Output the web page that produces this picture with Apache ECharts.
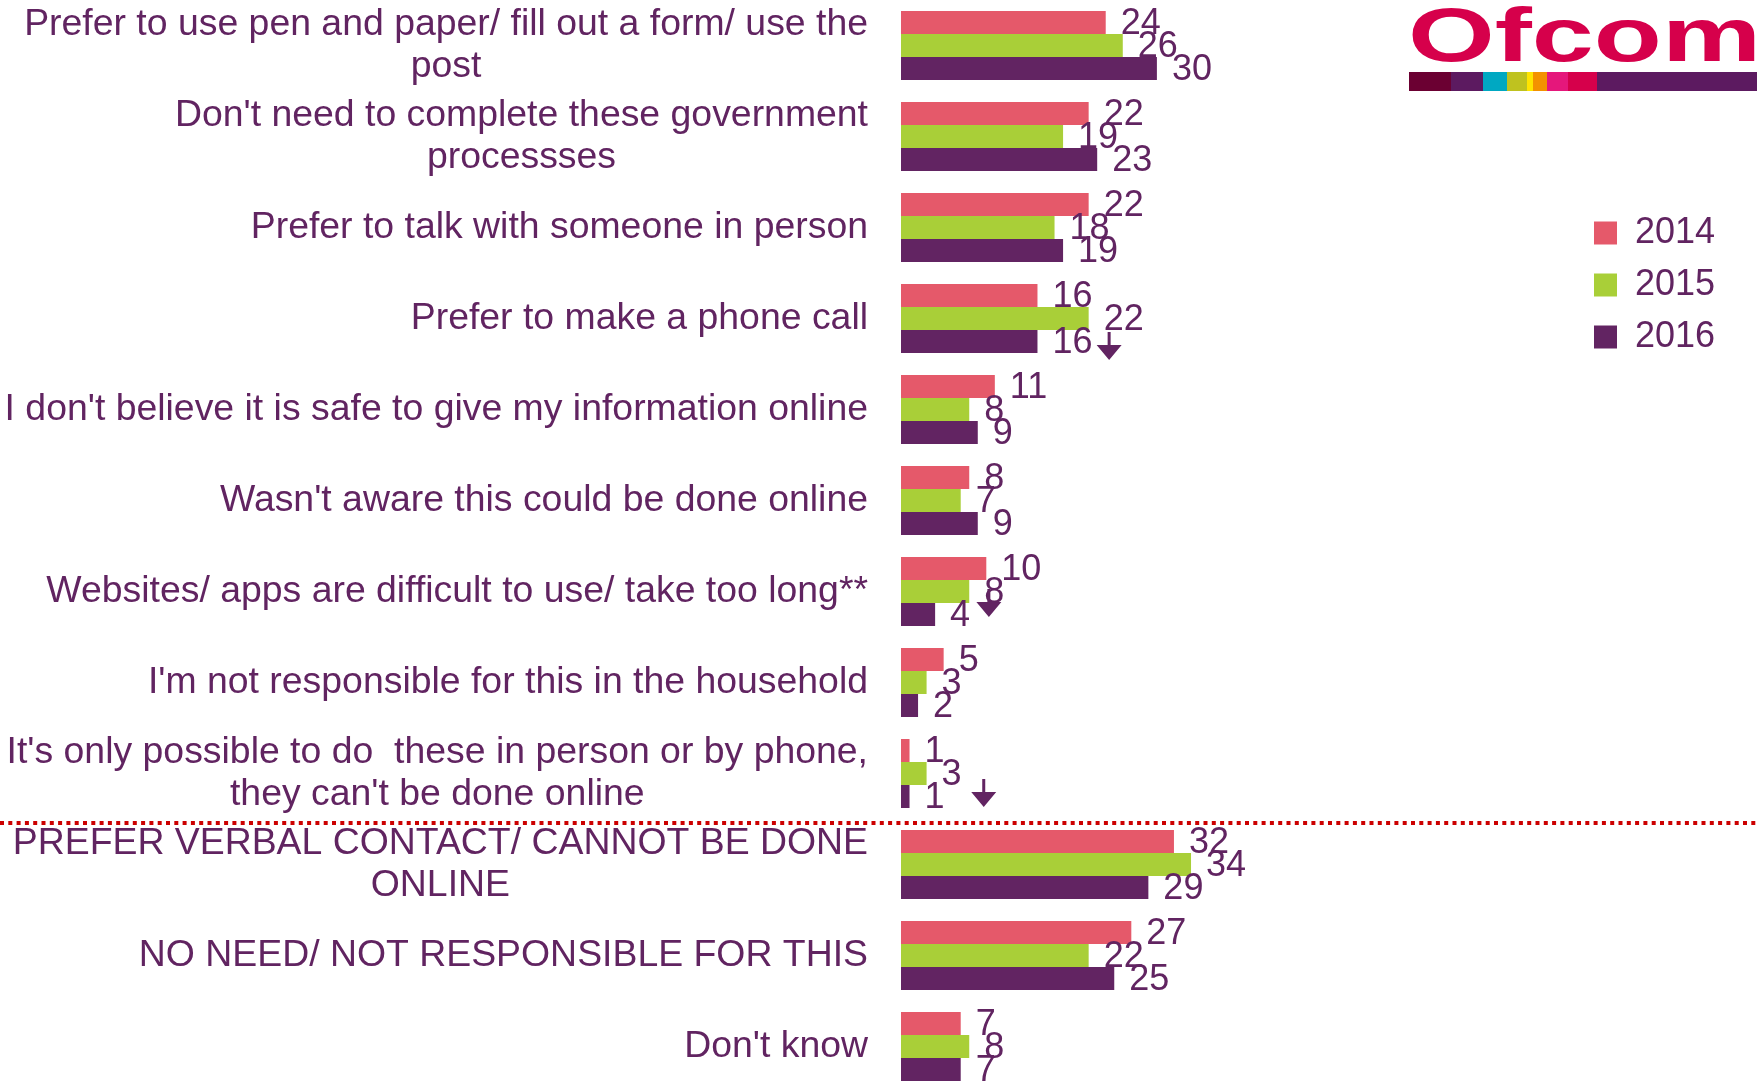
<!DOCTYPE html>
<html>
<head>
<meta charset="utf-8">
<title>Reasons for not completing government processes online</title>
<script src="https://cdn.jsdelivr.net/npm/echarts@6/dist/echarts.min.js"></script>
<style>
  html, body { margin: 0; padding: 0; background: #ffffff; overflow: hidden; }
  /* the last row runs slightly past the bottom edge of the page */
  #chart { width: 1758px; height: 1092px; }
</style>
</head>
<body>
<div id="chart"></div>
<script>
// Reasons given, top to bottom
const categories = [
  "Prefer to use pen and paper/ fill out a form/ use the\npost",
  "Don't need to complete these government\nprocessses",
  "Prefer to talk with someone in person",
  "Prefer to make a phone call",
  "I don't believe it is safe to give my information online",
  "Wasn't aware this could be done online",
  "Websites/ apps are difficult to use/ take too long**",
  "I'm not responsible for this in the household",
  "It's only possible to do  these in person or by phone,\nthey can't be done online",
  "PREFER VERBAL CONTACT/ CANNOT BE DONE\nONLINE",
  "NO NEED/ NOT RESPONSIBLE FOR THIS",
  "Don't know"
];

const years = ["2014", "2015", "2016"];
const values2014 = [24, 22, 22, 16, 11, 8, 10, 5, 1, 32, 27, 7];
const values2015 = [26, 19, 18, 22, 8, 7, 8, 3, 3, 34, 22, 8];
const values2016 = [30, 23, 19, 16, 9, 9, 4, 2, 1, 29, 25, 7];

// Significant decrease markers for 2016: [category index, x position in % units]
const decreaseRows = [3, 6, 8];
const decreaseX = [24.4, 10.3, 9.7];

const TEXT = '#612461';
const COLORS = ['#e5596a', '#a9cf38', '#622462'];
const FONT = '"Liberation Sans", Arial, sans-serif';

const chart = echarts.init(document.getElementById('chart'), null, { renderer: 'canvas' });

const arrowPath = 'path://M11,0 L14,0 L14,13 L25,13 L12.5,28 L0,13 L11,13 Z';
const arrowShift = [27.5, 11.5, 19.5];

function barSeries(name, data, color) {
  return {
    name: name,
    type: 'bar',
    data: data,
    barWidth: 23,
    barGap: '0%',
    itemStyle: { color: color },
    label: {
      show: true,
      position: 'right',
      distance: 15,
      offset: [0, 2],
      color: TEXT,
      fontFamily: FONT,
      fontSize: 36
    },
    emphasis: { disabled: true },
    animation: false
  };
}

// Ofcom brand stripe segments: [x start, x end, colour]
const stripe = [
  [1409, 1451, '#6b0032'],
  [1451, 1483, '#5c1a60'],
  [1483, 1507, '#00a8c2'],
  [1507, 1527, '#bfc21f'],
  [1527, 1533, '#ffe400'],
  [1533, 1547, '#f39200'],
  [1547, 1568, '#e5177b'],
  [1568, 1597, '#d6004b'],
  [1597, 1757, '#5c1a60']
];

const graphics = [
  {
    type: 'line',
    silent: true,
    shape: { x1: 0, y1: 823, x2: 1758, y2: 823 },
    style: { stroke: '#cc0000', lineWidth: 4, lineDash: [4, 4.3] }
  },
  {
    type: 'text',
    silent: true,
    x: 1408,
    y: 40,
    scaleX: 1.467,
    style: {
      text: 'Ofcom',
      fill: '#d6004b',
      font: '900 76px ' + FONT,
      verticalAlign: 'middle',
      align: 'left'
    }
  }
].concat(stripe.map(s => ({
  type: 'rect',
  silent: true,
  shape: { x: s[0], y: 72, width: s[1] - s[0], height: 19 },
  style: { fill: s[2] }
})));

const option = {
  backgroundColor: '#ffffff',
  animation: false,
  textStyle: { fontFamily: FONT },
  grid: { left: 901, width: 853, top: 0, bottom: 0, containLabel: false },
  legend: {
    data: years,
    orient: 'vertical',
    left: 1594,
    top: 215,
    padding: 0,
    itemWidth: 23,
    itemHeight: 23,
    itemGap: 16,
    icon: 'rect',
    selectedMode: false,
    textStyle: { color: TEXT, fontSize: 36, fontFamily: FONT, padding: [8, 0, 0, 13] }
  },
  xAxis: {
    type: 'value',
    min: 0,
    max: 100,
    show: false
  },
  yAxis: {
    type: 'category',
    data: categories,
    inverse: true,
    axisLine: { show: false },
    axisTick: { show: false },
    splitLine: { show: false },
    axisLabel: {
      margin: 33,
      align: 'right',
      interval: 0,
      formatter: v => v.split('\n').map(l => '{c|' + l + '}').join('\n'),
      rich: {
        c: { color: TEXT, fontSize: 37.4, lineHeight: 42, fontFamily: FONT, align: 'center' }
      }
    }
  },
  series: [
    barSeries(years[0], values2014, COLORS[0]),
    barSeries(years[1], values2015, COLORS[1]),
    barSeries(years[2], values2016, COLORS[2]),
    {
      name: 'decrease',
      type: 'scatter',
      silent: true,
      animation: false,
      symbol: arrowPath,
      symbolSize: [25, 28],
      itemStyle: { color: COLORS[2], opacity: 1 },
      data: decreaseRows.map((r, i) => ({
        value: [decreaseX[i], r],
        symbolOffset: [0, arrowShift[i]]
      })),
      z: 5
    }
  ],
  graphic: graphics
};

chart.setOption(option);
</script>
</body>
</html>
